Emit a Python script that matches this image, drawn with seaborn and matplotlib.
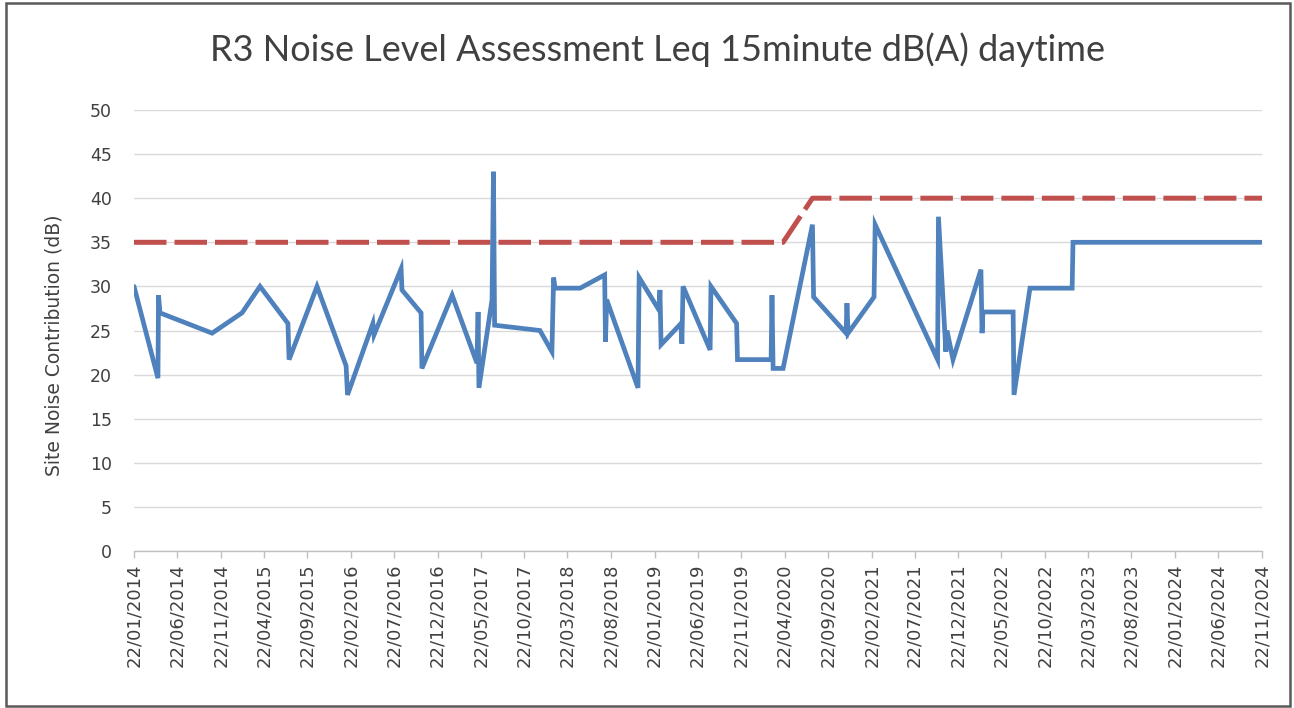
import matplotlib
matplotlib.use("Agg")
import matplotlib.pyplot as plt
from matplotlib.patches import Rectangle
import pandas as pd
import seaborn as sns

# ---------------- data ----------------
site_dates = [
    "2014-01-22", "2014-04-16", "2014-04-18", "2014-04-23", "2014-10-23",
    "2015-02-05", "2015-04-09", "2015-07-16", "2015-07-20", "2015-10-26",
    "2016-02-05", "2016-02-10", "2016-05-09", "2016-05-13", "2016-08-16",
    "2016-08-19", "2016-10-25", "2016-10-28", "2017-02-11", "2017-05-09",
    "2017-05-13", "2017-05-16", "2017-07-01", "2017-07-06", "2017-07-10",
    "2017-12-16", "2018-01-27", "2018-02-02", "2018-02-07", "2018-05-06",
    "2018-07-31", "2018-08-03", "2018-08-07", "2018-11-25", "2018-11-29",
    "2019-02-07", "2019-02-10", "2019-02-14", "2019-04-25", "2019-04-28",
    "2019-05-02", "2019-08-05", "2019-08-08", "2019-11-06", "2019-11-09",
    "2020-03-06", "2020-03-09", "2020-03-13", "2020-04-17", "2020-07-29",
    "2020-08-02", "2020-11-24", "2020-11-27", "2020-12-01", "2021-03-02",
    "2021-03-06", "2021-10-11", "2021-10-14", "2021-11-09", "2021-11-13",
    "2021-12-04", "2022-03-12", "2022-03-16", "2022-03-19", "2022-07-03",
    "2022-07-06", "2022-08-31", "2023-01-26", "2023-01-29", "2024-11-22",
]
site_values = [
    30.0, 19.6, 29.0, 27.0, 24.7,
    27.0, 30.0, 25.8, 21.7, 30.0,
    21.0, 17.7, 25.8, 24.5, 32.0,
    29.6, 27.0, 20.7, 29.0, 21.3,
    27.1, 18.5, 28.5, 43.0, 25.6,
    25.0, 22.6, 31.0, 29.8, 29.8,
    31.3, 23.7, 28.5, 18.5, 31.0,
    27.3, 29.6, 23.4, 25.8, 23.5,
    30.0, 22.8, 30.0, 25.8, 21.7,
    21.7, 29.0, 20.7, 20.7, 37.0,
    28.8, 24.7, 28.1, 24.7, 28.8,
    37.0, 21.7, 37.9, 22.6, 25.0,
    21.7, 31.9, 24.7, 27.1, 27.1,
    17.7, 29.8, 29.8, 35.0, 35.0,
]

criterion_dates = ["2014-01-22", "2020-04-17", "2020-07-29", "2024-11-22"]
criterion_values = [35.0, 35.0, 40.0, 40.0]

tick_labels = [
    "22/01/2014", "22/06/2014", "22/11/2014", "22/04/2015", "22/09/2015",
    "22/02/2016", "22/07/2016", "22/12/2016", "22/05/2017", "22/10/2017",
    "22/03/2018", "22/08/2018", "22/01/2019", "22/06/2019", "22/11/2019",
    "22/04/2020", "22/09/2020", "22/02/2021", "22/07/2021", "22/12/2021",
    "22/05/2022", "22/10/2022", "22/03/2023", "22/08/2023", "22/01/2024",
    "22/06/2024", "22/11/2024",
]

title = "R3 Noise Level Assessment Leq 15minute dB(A) daytime"
y_label = "Site Noise Contribution (dB)"

# ---------------- plot ----------------
sns.set_theme(style="white")
plt.rcParams["font.family"] = ["DejaVu Sans"]

W, H = 1294, 708
fig = plt.figure(figsize=(W / 100, H / 100), dpi=100)
ax = fig.add_axes([134 / W, 1 - 551 / H, (1262 - 134) / W, (551 - 110) / H])

site = pd.DataFrame({"date": pd.to_datetime(site_dates), "value": site_values})
crit = pd.DataFrame({"date": pd.to_datetime(criterion_dates), "value": criterion_values})

blue = "#4F81BD"
red = "#C0504D"

sns.lineplot(data=crit, x="date", y="value", ax=ax, sort=False, estimator=None,
             color=red, linewidth=3.6, zorder=3)
ax.lines[-1].set_dashes((6.5, 1.6))
sns.lineplot(data=site, x="date", y="value", ax=ax, sort=False, estimator=None,
             color=blue, linewidth=3.4, zorder=4)
ax.lines[-1].set_solid_joinstyle("miter")

tick_dates = pd.to_datetime(tick_labels, format="%d/%m/%Y")
ax.set_xlim(tick_dates[0], tick_dates[-1])
ax.set_ylim(0, 50)
ax.set_yticks(range(0, 51, 5))
ax.set_xticks(tick_dates)
ax.set_xticklabels(tick_labels, rotation=90, fontsize=13, color="#404040")
ax.tick_params(axis="y", labelsize=12.5, labelcolor="#404040", length=0, pad=16)
ax.tick_params(axis="x", length=5, width=1, color="#BFBFBF", pad=4, direction="out",
               bottom=True)

ax.grid(axis="y", color="#D9D9D9", linewidth=1.0)
ax.grid(axis="x", visible=False)
ax.set_axisbelow(True)
for s in ["top", "right", "left"]:
    ax.spines[s].set_visible(False)
ax.spines["bottom"].set_color("#BFBFBF")
ax.spines["bottom"].set_linewidth(1.0)
ax.spines["bottom"].set_zorder(2)

ax.set_xlabel("")
ax.set_ylabel(y_label, fontsize=13.5, color="#404040")
ax.yaxis.set_label_coords((64 - 134) / (1262 - 134), (551 - 345) / (551 - 110))

fig.text(658 / W, 1 - 50 / H, title, ha="center", va="center", fontsize=26,
         color="#404040", family=["Lato", "DejaVu Sans"])

fig.patches.append(Rectangle((6 / W, 2 / H), (1290 - 6) / W, (705 - 2) / H,
                             transform=fig.transFigure, fill=False,
                             edgecolor="#595959", linewidth=1.8))

fig.savefig("out.png", dpi=100)
